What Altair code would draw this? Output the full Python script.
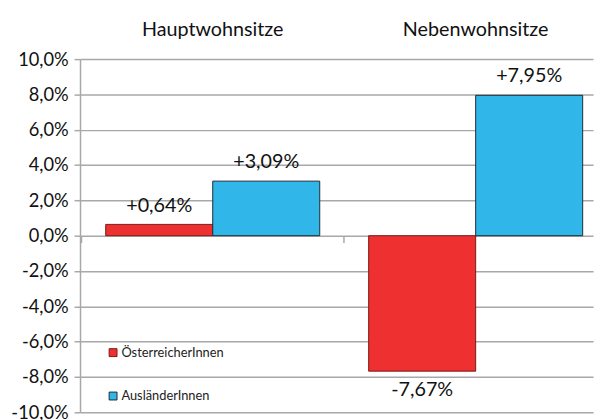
import altair as alt
import pandas as pd

categories = ["Hauptwohnsitze", "Nebenwohnsitze"]
series = ["ÖsterreicherInnen", "AusländerInnen"]
values_oe = [0.64, -7.67]
values_au = [3.09, 7.95]
colors = ["#EE3030", "#30B6E8"]
strokes = ["#7a1a1a", "#1e2a33"]

rows = []
for i, c in enumerate(categories):
    for s, vals in zip(series, [values_oe, values_au]):
        v = vals[i]
        lab = ("+" if v > 0 else "") + f"{v:.2f}".replace(".", ",") + "%"
        rows.append({"cat": c, "ser": s, "v": v, "lab": lab})
df = pd.DataFrame(rows)

FONT = "Lato"

xscale = alt.Scale(domain=categories, paddingInner=0.186, paddingOuter=0.0686, align=0.712)
xoff = alt.XOffset("ser:N", sort=series, scale=alt.Scale(paddingInner=0))
yscale = alt.Scale(domain=[-10, 10], nice=False)

bars = alt.Chart(df).mark_bar(strokeWidth=1).encode(
    x=alt.X("cat:N", sort=categories, scale=xscale, title=None,
            axis=alt.Axis(orient="top", ticks=False, domain=False, labelPadding=20,
                          labelFontSize=20, labelColor="#111", labelFont=FONT, labelAngle=0)),
    xOffset=xoff,
    y=alt.Y("v:Q", scale=yscale, title=None,
            axis=alt.Axis(values=list(range(-10, 11, 2)), tickCount=30,
                          labelExpr="replace(replace(format(datum.value, '.1f'), '.', ','), '\u2212', '-') + '%'",
                          labelOverlap=False, labelBound=False, labelFlush=False,
                          labelFontSize=18.5, labelColor="#111", labelFont=FONT, labelPadding=6,
                          grid=True, gridColor="#a8a8a8", gridWidth=1.5,
                          domainColor="#a8a8a8", domainWidth=1.5,
                          tickColor="#a8a8a8", tickSize=6, tickWidth=1.5)),
    color=alt.Color("ser:N", sort=series, scale=alt.Scale(domain=series, range=colors),
                    legend=alt.Legend(title=None, orient="none", legendX=27, legendY=291,
                                      symbolType="square", symbolSize=64, symbolStrokeColor="#333",
                                      symbolStrokeWidth=1, labelFontSize=13, labelFont=FONT,
                                      labelColor="#222", rowPadding=30, labelOffset=2)),
    stroke=alt.Stroke("ser:N", sort=series, scale=alt.Scale(domain=series, range=strokes), legend=None),
)

xaxis_bottom = alt.X("cat:N", sort=categories, scale=xscale, title=None,
                     axis=alt.Axis(orient="bottom", offset=-179, labels=False, domain=False,
                                   bandPosition=-0.115, tickSize=7, tickColor="#a8a8a8", tickWidth=1.5))

pos = alt.Chart(df).transform_filter(alt.datum.v >= 0).mark_text(
    baseline="bottom", dy=-9, fontSize=20, font=FONT, color="#111").encode(
    x=xaxis_bottom, xOffset=xoff,
    y=alt.Y("v:Q", scale=yscale), text="lab:N")

neg = alt.Chart(df).transform_filter(alt.datum.v < 0).mark_text(
    baseline="top", dy=9, fontSize=20, font=FONT, color="#111").encode(
    x=alt.X("cat:N", sort=categories, scale=xscale, axis=None), xOffset=xoff,
    y=alt.Y("v:Q", scale=yscale), text="lab:N")

chart = alt.layer(bars, pos, neg).resolve_axis(x="independent").properties(
    width=520, height=358,
    autosize=alt.AutoSizeParams(type="none"),
    padding={"left": 73, "top": 49, "right": 5, "bottom": 5},
).configure_view(stroke=None)

chart.save("out.html", embed_options={"renderer": "svg", "actions": False})
